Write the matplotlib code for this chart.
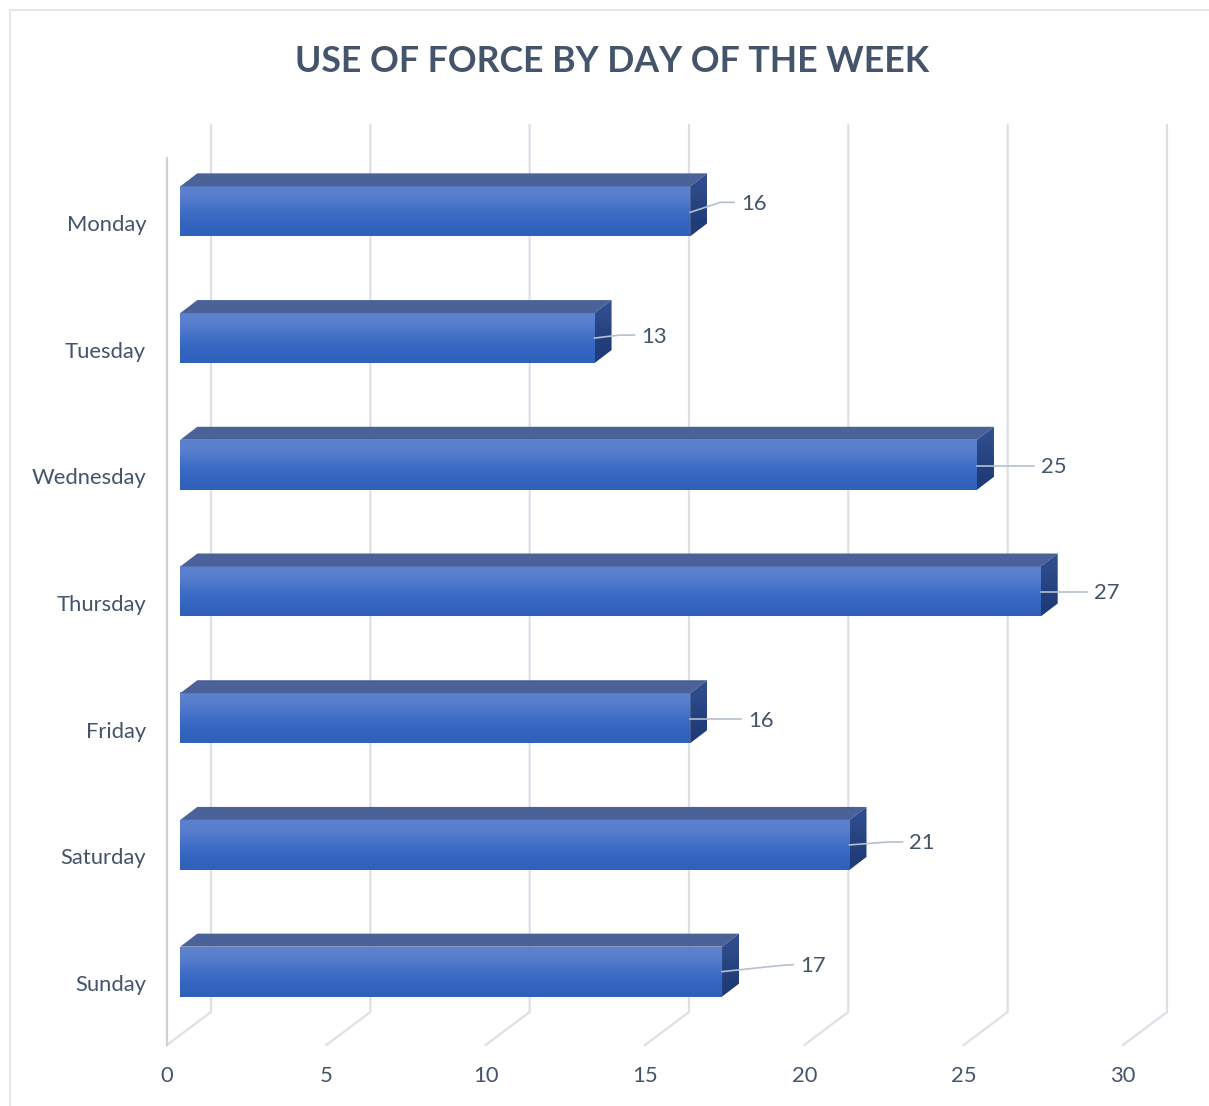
import numpy as np
import matplotlib.pyplot as plt
from matplotlib.lines import Line2D
from matplotlib.patches import Polygon
from matplotlib.transforms import Affine2D

days = ['Monday', 'Tuesday', 'Wednesday', 'Thursday', 'Friday', 'Saturday', 'Sunday']
counts = [16, 13, 25, 27, 16, 21, 17]
x_ticks = [0, 5, 10, 15, 20, 25, 30]
title = 'USE OF FORCE BY DAY OF THE WEEK'

# leader line points per bar, in pixels from the middle of the bar end
leaders = [[(0, 1), (30, -9), (44, -9)],
           [(0, 0), (25, -3), (40, -3)],
           [(0, 1), (57, 1)],
           [(0, 0), (46, 0)],
           [(0, 1), (51, 1)],
           [(0, 0), (40, -3), (53, -3)],
           [(0, 0), (57, -6), (71, -7)]]

W, H = 1209, 1106
plt.rcParams['font.family'] = ['Lato', 'DejaVu Sans']
text_col = '#44546A'
grid_col = '#DEE0E7'

fig = plt.figure(figsize=(W / 100, H / 100), dpi=100, facecolor='white')
# front plane of the 3D box: x 167-1123, y 158-1045 px
ax = fig.add_axes([167 / W, 1 - 1045 / H, 956 / W, 887 / H])
k = 956 / 30        # px per unit on x
r = 887 / 7         # px per category on y

for s in ax.spines.values():
    s.set_visible(False)

# walls and floor
back_x, back_y = 44 / k, -33 / r
for v in x_ticks:
    ax.plot([v, v + back_x, v + back_x], [6.5, 6.5 + back_y, -0.5 + back_y],
            color=grid_col, lw=1.6, clip_on=False, zorder=1, solid_joinstyle='miter')
ax.plot([0, 0], [-0.5, 6.5], color='#CFD1D7', lw=1.6, clip_on=False, zorder=1.5)

# bars
grad = np.array([[0.36, 0.51, 0.81], [0.33, 0.48, 0.80], [0.24, 0.43, 0.78],
                 [0.21, 0.40, 0.76], [0.19, 0.38, 0.73]])[:, None, :]
side_grad = np.array([[0.19, 0.31, 0.56], [0.15, 0.26, 0.50], [0.12, 0.23, 0.47]])[:, None, :]
bar_dx, bar_dy = 13.3 / k, -10 / r
half = 25 / r
dep_x, dep_y = 17 / k, -13 / r

for i, v in enumerate(counts):
    x0 = bar_dx
    x1 = v + bar_dx
    yc = i + bar_dy
    top, bot = yc - half, yc + half
    ax.imshow(grad, extent=(x0, x1, bot, top), aspect='auto', interpolation='bicubic',
              zorder=3, clip_on=False)
    ax.add_patch(Polygon([(x0, top), (x0 + dep_x, top + dep_y), (x1 + dep_x, top + dep_y), (x1, top)],
                         facecolor='#4A6298', edgecolor='none', zorder=3, clip_on=False))
    side = Polygon([(x1, top), (x1 + dep_x, top + dep_y), (x1 + dep_x, bot + dep_y), (x1, bot)],
                   transform=ax.transData, facecolor='none', edgecolor='none')
    ax.add_patch(side)
    side.set_clip_on(False)
    im = ax.imshow(side_grad, extent=(x1, x1 + dep_x, bot, top + dep_y), aspect='auto',
                   interpolation='bicubic', zorder=3)
    im.set_clip_on(True)
    im.set_clip_path(side)

    # leader line and label
    pts = leaders[i]
    ax.plot([x1 + p[0] / k for p in pts], [yc + p[1] / r for p in pts],
            color='#B4C0D0', lw=1.2, zorder=4, clip_on=False)
    ax.text(x1 + (pts[-1][0] + 7) / k, yc + (pts[-1][1] + 1.5) / r, str(v), color=text_col,
            fontsize=15.8, ha='left', va='center', zorder=5, clip_on=False)

ax.set_xlim(0, 30)
ax.set_ylim(6.5, -0.5)

ax.set_xticks(x_ticks)
ax.set_yticks(range(len(days)))
ax.set_yticklabels(days)
ax.tick_params(axis='both', length=0, labelsize=15.8, labelcolor=text_col)
ax.tick_params(axis='x', pad=15)
ax.tick_params(axis='y', pad=15)
for lab in ax.get_yticklabels():
    lab.set_transform(lab.get_transform() + Affine2D().translate(0, -1.5))

fig.text(612.5 / W, 1 - 61 / H, title, color=text_col, fontsize=25.7, fontweight='bold',
         ha='center', va='center')

# outer frame
fig.add_artist(Line2D([9.5 / W, 9.5 / W], [0, 1 - 10 / H], color='#E2E5EC', lw=1.4))
fig.add_artist(Line2D([9.5 / W, 1], [1 - 10 / H, 1 - 10 / H], color='#E2E5EC', lw=1.4))

fig.savefig('out.png', dpi=100, facecolor='white')
